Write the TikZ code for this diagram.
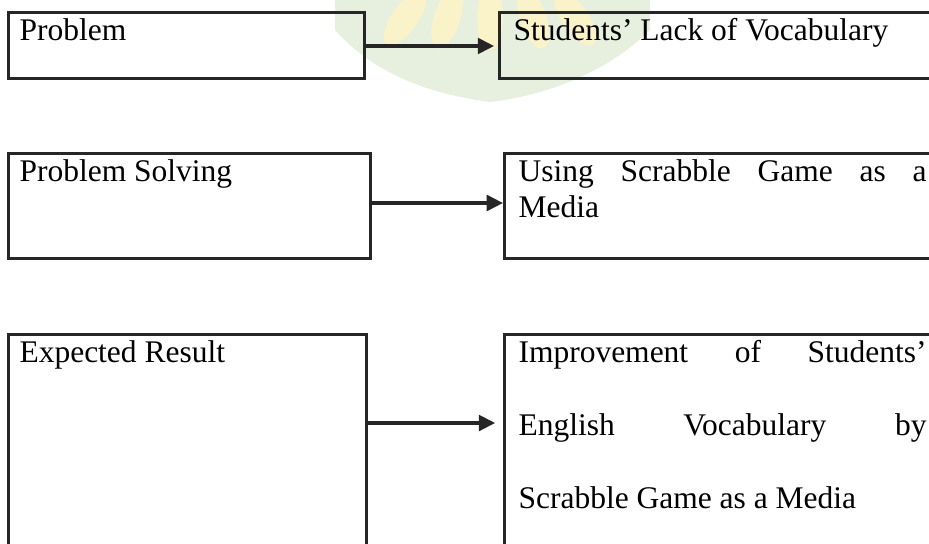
\documentclass[tikz,border=0pt]{standalone}
\usepackage{fontspec}
\setmainfont{Liberation Serif}
\usetikzlibrary{arrows.meta}

\newlength\pxl
\setlength\pxl{0.381pt}
\definecolor{markgreen}{RGB}{231,240,222}
\definecolor{markyellow}{RGB}{250,242,200}
\definecolor{ink}{RGB}{38,38,38}

\begin{document}
\begin{tikzpicture}[
    x=\pxl, y=-\pxl,
    stage/.style={rectangle, draw=ink, line width=1.2pt, anchor=north west, inner sep=0pt},
    txt/.style={anchor=base west, inner sep=0pt, font=\fontsize{12}{14}\selectfont},
    flow/.style={draw=ink, line width=1.2pt, -{Triangle[length=6.2pt,width=6pt]}}
]

    \clip (0,0) rectangle (929,543);

    % faint watermark behind the top row
    \fill[markgreen] (335,0) -- (335,30) .. controls (380,80) and (440,95) .. (490,102)
        .. controls (550,95) and (610,70) .. (650,30) -- (650,0) -- cycle;
    \foreach \x/\r in {405/-35, 447/-18, 490/0, 533/18, 575/35}
        \fill[markyellow] (\x,18) ellipse [x radius=13, y radius=32, rotate=\r];

    % Problem
    \node[stage, minimum width=356\pxl, minimum height=66\pxl] (prob) at (7,11) {};
    \node[stage, minimum width=450\pxl, minimum height=66\pxl] (lack) at (498,11) {};
    \node[txt] (probT) at (19,40) {Problem};
    \node[txt] (lackT) at (513,40) {Students’ Lack of Vocabulary};

    % Problem solving
    \node[stage, minimum width=362\pxl, minimum height=105\pxl] (solv) at (7,152) {};
    \node[stage, minimum width=450\pxl, minimum height=105\pxl] (scrab) at (503,152) {};
    \node[txt] (solvT) at (19,181) {Problem Solving};
    \node[txt] (scrabT1) at (518,181) {\makebox[408\pxl][s]{Using Scrabble Game as a}};
    \node[txt] (scrabT2) at (518,217) {Media};

    % Expected result
    \node[stage, minimum width=358\pxl, minimum height=260\pxl] (res) at (7,333) {};
    \node[stage, minimum width=450\pxl, minimum height=260\pxl] (impr) at (503,333) {};
    \node[txt] (resT) at (19,362) {Expected Result};
    \node[txt] (imprT1) at (518,362) {\makebox[408\pxl][s]{Improvement of Students’}};
    \node[txt] (imprT2) at (518,435) {\makebox[408\pxl][s]{English Vocabulary by}};
    \node[txt] (imprT3) at (518,508) {Scrabble Game as a Media};

    % Connections
    \draw[flow, shorten >=1.5pt] (prob.east |- 0,46) -- (lack.west |- 0,46);
    \draw[flow] (solv.east |- 0,203) -- (scrab.west |- 0,203);
    \draw[flow, shorten >=3pt] (res.east |- 0,423) -- (impr.west |- 0,423);

\end{tikzpicture}
\end{document}
